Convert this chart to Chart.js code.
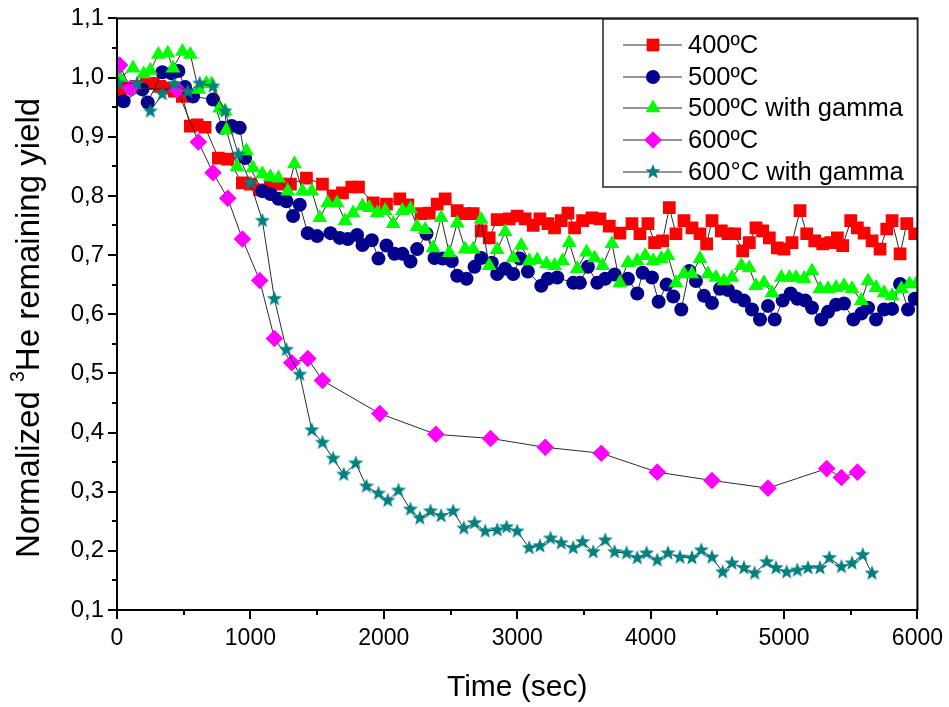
<!DOCTYPE html>
<html>
<head>
<meta charset="utf-8">
<script src="https://cdn.jsdelivr.net/npm/chart.js@4/dist/chart.umd.min.js"></script>
<style>
  html, body { margin: 0; padding: 0; background: #fff; }
  #wrap { width: 949px; height: 707px; }
</style>
</head>
<body>
<div id="wrap"><canvas id="c" width="949" height="707"></canvas></div>
<script>
// Annealing runs: time (s) and normalized 3He remaining yield
const time400 = [20,80,150,220,270,320,380,430,490,550,600,660,760,830,940,1000,1070,1150,1220,1300,1420,1540,1620,1690,1760,1810,1920,2020,2120,2180,2280,2340,2400,2460,2550,2610,2670,2730,2790,2850,2940,3000,3060,3120,3170,3230,3280,3330,3380,3430,3490,3560,3620,3690,3770,3860,3920,3980,4030,4090,4140,4190,4250,4310,4370,4420,4460,4530,4580,4630,4690,4740,4790,4840,4890,4950,5000,5060,5120,5170,5230,5290,5350,5400,5440,5500,5550,5600,5660,5720,5770,5810,5870,5920,5980];
const yield400 = [0.977,0.982,0.985,0.99,0.99,0.985,0.982,0.977,0.968,0.918,0.92,0.916,0.864,0.862,0.822,0.82,0.81,0.815,0.82,0.82,0.83,0.82,0.80,0.805,0.815,0.815,0.788,0.786,0.795,0.785,0.77,0.771,0.786,0.795,0.775,0.77,0.77,0.741,0.729,0.76,0.761,0.766,0.761,0.75,0.761,0.753,0.746,0.758,0.771,0.746,0.758,0.763,0.761,0.749,0.737,0.753,0.736,0.753,0.721,0.724,0.78,0.736,0.758,0.746,0.736,0.719,0.758,0.741,0.736,0.736,0.707,0.721,0.746,0.741,0.729,0.712,0.71,0.721,0.775,0.736,0.724,0.719,0.721,0.729,0.716,0.758,0.746,0.737,0.724,0.71,0.744,0.758,0.702,0.753,0.736];

const time500 = [50,190,230,340,410,460,510,570,720,790,860,920,960,1090,1150,1210,1270,1320,1370,1430,1500,1600,1670,1730,1800,1840,1910,1960,2020,2080,2140,2200,2250,2320,2380,2440,2510,2550,2620,2680,2730,2810,2850,2910,2970,3020,3080,3180,3230,3300,3420,3470,3530,3600,3660,3730,3830,3900,3940,4010,4060,4120,4170,4230,4290,4340,4400,4460,4520,4580,4640,4700,4760,4820,4880,4930,4990,5050,5100,5160,5210,5280,5330,5390,5450,5520,5580,5630,5690,5750,5810,5870,5930,5980];
const yield500 = [0.96,0.98,0.958,1.009,1.007,1.011,0.984,0.968,0.963,0.915,0.918,0.915,0.864,0.808,0.803,0.795,0.791,0.766,0.785,0.737,0.732,0.737,0.729,0.727,0.734,0.717,0.725,0.694,0.716,0.702,0.702,0.689,0.71,0.736,0.695,0.694,0.69,0.665,0.66,0.68,0.695,0.687,0.668,0.677,0.668,0.694,0.672,0.648,0.66,0.662,0.653,0.653,0.68,0.653,0.66,0.667,0.66,0.635,0.67,0.662,0.621,0.65,0.63,0.608,0.673,0.656,0.631,0.619,0.643,0.641,0.63,0.623,0.608,0.591,0.614,0.591,0.623,0.635,0.626,0.623,0.611,0.591,0.604,0.616,0.618,0.591,0.601,0.611,0.591,0.608,0.609,0.651,0.608,0.626];

const time500g = [20,120,200,250,310,380,420,490,550,610,670,710,770,810,820,900,970,1020,1090,1150,1210,1280,1330,1390,1460,1520,1580,1650,1710,1770,1840,1890,1950,2010,2070,2140,2200,2250,2310,2370,2430,2490,2550,2610,2670,2730,2790,2850,2910,2970,3030,3090,3150,3220,3280,3340,3390,3450,3520,3580,3640,3710,3770,3830,3900,3960,4020,4080,4130,4190,4250,4310,4370,4430,4490,4550,4610,4680,4740,4790,4850,4910,4980,5040,5090,5150,5210,5270,5330,5390,5450,5510,5580,5630,5690,5750,5810,5880,5940,5990];
const yield500g = [1.0,1.016,1.006,1.012,1.039,1.041,1.016,1.044,1.039,0.98,0.99,0.989,0.948,0.943,0.911,0.849,0.876,0.847,0.837,0.832,0.83,0.808,0.854,0.808,0.808,0.763,0.788,0.788,0.758,0.771,0.783,0.78,0.771,0.775,0.753,0.775,0.778,0.748,0.743,0.712,0.763,0.704,0.754,0.71,0.71,0.76,0.682,0.709,0.739,0.695,0.716,0.69,0.692,0.685,0.682,0.69,0.721,0.677,0.705,0.695,0.682,0.719,0.653,0.687,0.69,0.699,0.69,0.694,0.699,0.653,0.668,0.668,0.694,0.668,0.662,0.656,0.662,0.682,0.678,0.648,0.653,0.636,0.662,0.662,0.662,0.66,0.673,0.643,0.643,0.645,0.648,0.643,0.623,0.656,0.645,0.636,0.631,0.643,0.651,0.651];

const time600 = [20,100,450,610,720,830,940,1070,1180,1310,1430,1540,1970,2390,2800,3210,3630,4050,4460,4880,5320,5430,5550];
const yield600 = [1.021,0.982,0.98,0.891,0.839,0.796,0.727,0.657,0.559,0.518,0.525,0.488,0.432,0.397,0.39,0.375,0.365,0.333,0.319,0.306,0.339,0.324,0.333];

const time600g = [10,150,250,340,430,530,620,720,810,910,1000,1090,1180,1270,1370,1460,1540,1620,1700,1790,1870,1960,2030,2110,2200,2270,2350,2430,2520,2600,2680,2760,2850,2920,3000,3090,3170,3250,3330,3420,3490,3570,3660,3730,3820,3900,3970,4050,4130,4220,4310,4380,4460,4540,4610,4700,4780,4870,4940,5020,5100,5180,5270,5340,5430,5510,5590,5660];
const yield600g = [0.99,0.99,0.943,0.972,0.989,0.976,0.99,0.985,0.943,0.87,0.822,0.758,0.626,0.54,0.498,0.404,0.383,0.356,0.329,0.348,0.309,0.297,0.285,0.302,0.27,0.255,0.267,0.259,0.267,0.238,0.247,0.233,0.235,0.24,0.233,0.205,0.208,0.221,0.213,0.205,0.215,0.198,0.218,0.198,0.196,0.188,0.196,0.184,0.196,0.189,0.188,0.201,0.189,0.164,0.179,0.171,0.162,0.181,0.171,0.164,0.167,0.171,0.171,0.188,0.173,0.179,0.193,0.162];

const seriesLabels = ['400ºC', '500ºC', '500ºC with gamma', '600ºC', '600°C with gamma'];
const xTickLabels = ['0', '1000', '2000', '3000', '4000', '5000', '6000'];
const yTickLabels = ['0,1','0,2','0,3','0,4','0,5','0,6','0,7','0,8','0,9','1,0','1,1'];

const FONT = '"Liberation Sans", Arial, Helvetica, sans-serif';

function toPoints(xs, ys) { return xs.map((x, i) => ({ x: x, y: ys[i] })); }

// filled five-pointed star used as a marker
function makeStar(color, outer) {
  const size = Math.ceil(outer * 2 + 2);
  const cv = document.createElement('canvas');
  cv.width = size; cv.height = size;
  const g = cv.getContext('2d');
  const c = size / 2, inner = outer * 0.42;
  g.beginPath();
  for (let k = 0; k < 10; k++) {
    const r = k % 2 === 0 ? outer : inner;
    const a = -Math.PI / 2 + k * Math.PI / 5;
    const px = c + r * Math.cos(a), py = c + r * Math.sin(a);
    if (k === 0) g.moveTo(px, py); else g.lineTo(px, py);
  }
  g.closePath();
  g.fillStyle = color;
  g.fill();
  return cv;
}
const starMarker = makeStar('#008080', 8);

function series(label, pts, color, style, radius, order) {
  return {
    label: label,
    data: pts,
    borderColor: '#2b2b2b',
    borderWidth: 1,
    pointStyle: style,
    pointRadius: radius,
    pointHoverRadius: radius,
    pointBackgroundColor: color,
    pointBorderColor: color,
    pointBorderWidth: 0,
    tension: 0,
    fill: false,
    order: order,
    markerColor: color
  };
}

const datasets = [
  series(seriesLabels[0], toPoints(time400, yield400), '#ff0000', 'rect', 9, 5),
  series(seriesLabels[1], toPoints(time500, yield500), '#00008c', 'circle', 7, 4),
  series(seriesLabels[2], toPoints(time500g, yield500g), '#00ff00', 'triangle', 8.6, 3),
  series(seriesLabels[3], toPoints(time600, yield600), '#ff00ff', 'rectRot', 8.8, 2),
  series(seriesLabels[4], toPoints(time600g, yield600g), '#008080', starMarker, 8, 1)
];

function drawMarker(ctx, style, color, r, x, y) {
  ctx.save();
  ctx.fillStyle = color;
  ctx.beginPath();
  if (style === 'rect') {
    const s = r * Math.SQRT1_2;
    ctx.rect(x - s, y - s, 2 * s, 2 * s);
  } else if (style === 'circle') {
    ctx.arc(x, y, r, 0, Math.PI * 2);
  } else if (style === 'triangle') {
    ctx.moveTo(x, y - r);
    ctx.lineTo(x + r * Math.sin(Math.PI * 2 / 3), y - r * Math.cos(Math.PI * 2 / 3));
    ctx.lineTo(x - r * Math.sin(Math.PI * 2 / 3), y - r * Math.cos(Math.PI * 2 / 3));
    ctx.closePath();
  } else if (style === 'rectRot') {
    ctx.moveTo(x, y - r); ctx.lineTo(x + r, y); ctx.lineTo(x, y + r); ctx.lineTo(x - r, y);
    ctx.closePath();
  } else if (style instanceof HTMLCanvasElement) {
    ctx.drawImage(style, x - style.width / 2, y - style.height / 2);
    ctx.restore();
    return;
  }
  ctx.fill();
  ctx.restore();
}

const framePlugin = {
  id: 'frame',
  afterDatasetsDraw(chart) {
    const ctx = chart.ctx;
    const a = chart.chartArea;
    const xs = chart.scales.x, ys = chart.scales.y;
    ctx.save();
    ctx.strokeStyle = '#000';
    ctx.lineWidth = 2;
    ctx.lineCap = 'butt';
    ctx.strokeRect(a.left, a.top, a.right - a.left, a.bottom - a.top);

    // major and minor ticks on the bottom axis (pointing outward)
    ctx.beginPath();
    for (let v = xs.min; v <= xs.max; v += 500) {
      const px = Math.round(xs.getPixelForValue(v));
      const len = (v % 1000 === 0) ? 9 : 5;
      ctx.moveTo(px, a.bottom);
      ctx.lineTo(px, a.bottom + len);
    }
    // major and minor ticks on the left axis
    for (let i = 0; i <= 20; i++) {
      const v = ys.min + i * 0.05;
      const py = Math.round(ys.getPixelForValue(v));
      const len = (i % 2 === 0) ? 9 : 5;
      ctx.moveTo(a.left, py);
      ctx.lineTo(a.left - len, py);
    }
    ctx.stroke();

    // legend box in the upper right corner
    const bx = 603, by = 19, bw = a.right - 603, bh = 168;
    ctx.fillStyle = '#fff';
    ctx.fillRect(bx, by, bw, bh);
    ctx.lineWidth = 1.5;
    ctx.strokeStyle = '#222';
    ctx.strokeRect(bx, by, bw, bh);

    ctx.font = '25.5px ' + FONT;
    ctx.textBaseline = 'middle';
    ctx.textAlign = 'left';
    const rows = [45, 77, 108, 140, 172];
    chart.data.datasets.forEach((ds, i) => {
      const y = rows[i];
      ctx.beginPath();
      ctx.lineWidth = 1;
      ctx.strokeStyle = '#2b2b2b';
      ctx.moveTo(623, y); ctx.lineTo(682, y);
      ctx.stroke();
      drawMarker(ctx, ds.pointStyle, ds.markerColor, ds.pointRadius, 653, y);
      ctx.fillStyle = '#000';
      ctx.fillText(ds.label, 688, y + 1);
    });

    // axis titles
    ctx.fillStyle = '#000';
    ctx.textAlign = 'center';
    ctx.textBaseline = 'middle';
    ctx.font = '30px ' + FONT;
    ctx.fillText('Time (sec)', (a.left + a.right) / 2, 688);

    ctx.translate(27, 328);
    ctx.rotate(-Math.PI / 2);
    const big = '33px ' + FONT, small = '19.5px ' + FONT;
    const p1 = 'Normalized ', p2 = '3', p3 = 'He remaining yield';
    ctx.font = big; const w1 = ctx.measureText(p1).width, w3 = ctx.measureText(p3).width;
    ctx.font = small; const w2 = ctx.measureText(p2).width;
    let cx = -(w1 + w2 + w3) / 2;
    ctx.textAlign = 'left';
    ctx.textBaseline = 'alphabetic';
    ctx.font = big; ctx.fillText(p1, cx, 12); cx += w1;
    ctx.font = small; ctx.fillText(p2, cx, -3); cx += w2;
    ctx.font = big; ctx.fillText(p3, cx, 12);
    ctx.restore();
  }
};

new Chart(document.getElementById('c'), {
  type: 'line',
  data: { datasets: datasets },
  plugins: [framePlugin],
  options: {
    responsive: false,
    animation: false,
    events: [],
    layout: { padding: { top: 17, right: 31, left: 0, bottom: 0 } },
    plugins: { legend: { display: false }, tooltip: { enabled: false } },
    scales: {
      x: {
        type: 'linear',
        min: 0, max: 6000,
        border: { display: false },
        grid: { display: false, drawTicks: true, tickLength: 9 },
        ticks: {
          stepSize: 1000,
          padding: 6,
          color: '#000',
          font: { family: FONT, size: 23 },
          maxRotation: 0,
          callback: (v) => xTickLabels[Math.round(v / 1000)]
        },
        afterFit: (s) => { s.height = 97; }
      },
      y: {
        type: 'linear',
        min: 0.1, max: 1.1,
        border: { display: false },
        grid: { display: false, drawTicks: true, tickLength: 9 },
        ticks: {
          stepSize: 0.1,
          padding: 4,
          color: '#000',
          font: { family: FONT, size: 24 },
          callback: (v) => yTickLabels[Math.round((v - 0.1) * 10)]
        },
        afterFit: (s) => { s.width = 117; }
      }
    }
  }
});
</script>
</body>
</html>
